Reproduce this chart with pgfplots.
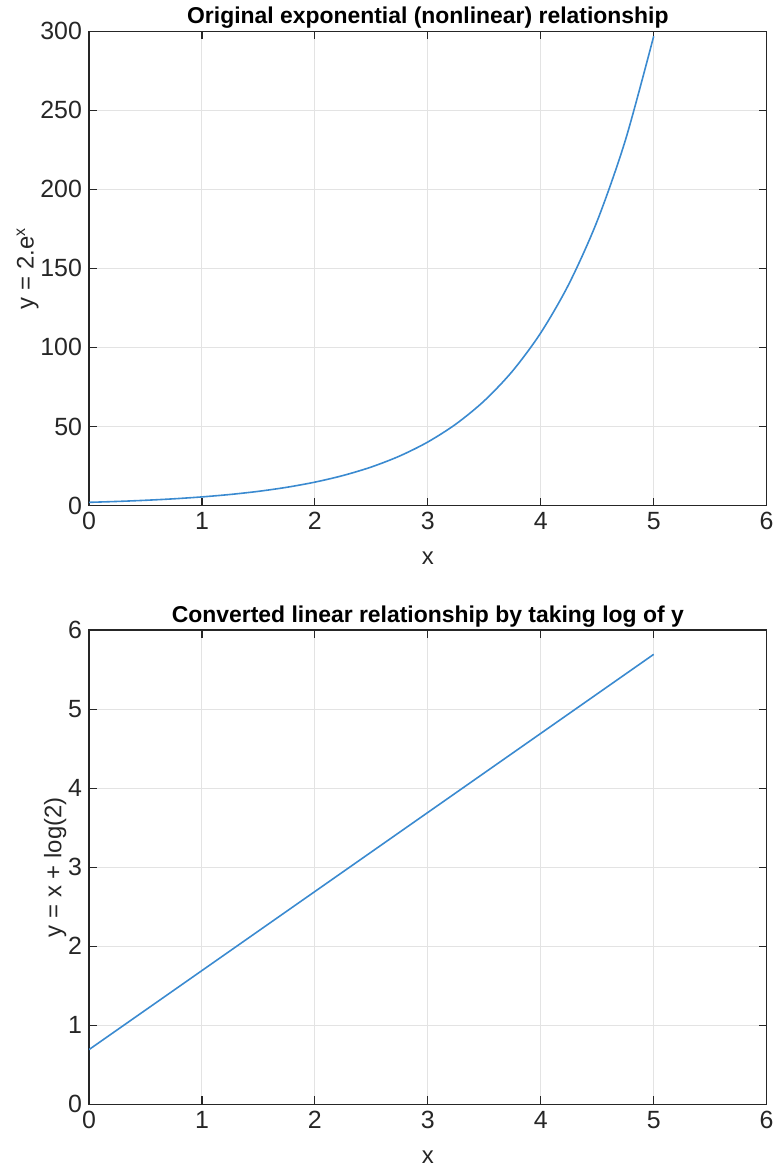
\documentclass[border={5pt 0pt 0pt 0pt}]{standalone}
\usepackage{fontspec}
\setmainfont{Liberation Sans}
\usepackage{pgfplots}
\pgfplotsset{compat=1.18}
\definecolor{mlblue}{HTML}{3A8AD0}
\definecolor{gridgray}{HTML}{E3E3E3}
\definecolor{axgray}{HTML}{262626}

\pgfplotsset{
  mlstyle/.style={
    scale only axis,
    width=340pt, height=238pt,
    xmin=0, xmax=6,
    xtick={0,1,2,3,4,5,6},
    tick align=inside,
    major tick length=4pt,
    grid=major,
    major grid style={gridgray, line width=0.5pt},
    axis line style={axgray, line width=0.6pt},
    tick style={axgray, line width=0.6pt},
    tick label style={font=\fontsize{12.5}{14}\selectfont, text=axgray},
    label style={font=\fontsize{12}{14}\selectfont, text=axgray},
    title style={font=\bfseries\fontsize{11.5}{13}\selectfont, text=black, yshift=-8pt},
    /pgf/number format/assume math mode=true,
    xlabel={x},
    xlabel style={yshift=-4pt},
    ylabel style={yshift=-6pt},
  }
}

\begin{document}
\begin{tikzpicture}
\begin{axis}[
  mlstyle,
  at={(0,0)}, anchor=north west,
  ymin=0, ymax=300,
  ytick={0,50,100,150,200,250,300},
  title={Original exponential (nonlinear) relationship},
  ylabel={y = 2.e\textsuperscript{x}},
]
\addplot[mlblue, line width=0.8pt, smooth] coordinates {
  (0,2.00) (0.25,2.57) (0.5,3.30) (0.75,4.23) (1,5.44) (1.25,6.98)
  (1.5,8.96) (1.75,11.51) (2,14.78) (2.25,18.98) (2.5,24.36) (2.75,31.28)
  (3,40.17) (3.25,51.58) (3.5,66.23) (3.75,85.04) (4,109.2) (4.25,140.2)
  (4.5,180.0) (4.75,231.2) (5,296.8)
};
\end{axis}
\begin{axis}[
  mlstyle,
  at={(0,-300.5pt)}, anchor=north west,
  ymin=0, ymax=6,
  ytick={0,1,2,3,4,5,6},
  title={Converted linear relationship by taking log of y},
  ylabel={y = x + log(2)},
]
\addplot[mlblue, line width=0.8pt] coordinates {
  (0,0.693) (1,1.693) (2,2.693) (3,3.693) (4,4.693) (5,5.693)
};
\end{axis}
\end{tikzpicture}
\end{document}
